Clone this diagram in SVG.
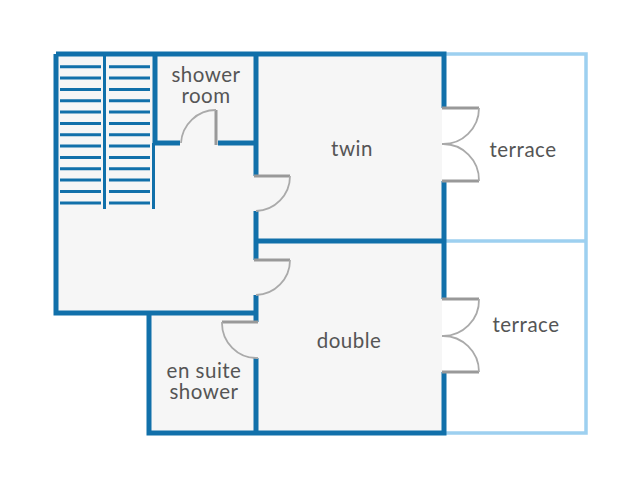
<svg xmlns="http://www.w3.org/2000/svg" width="640" height="488" viewBox="0 0 640 488">
<style>
.floor{fill:#f6f6f6;stroke:none}
.wall{fill:none;stroke:#1170aa;stroke-width:5}
.thin{fill:none;stroke:#1170aa;stroke-width:3}
.tread{fill:none;stroke:#1170aa;stroke-width:3}
.ter{fill:none;stroke:#9dd0f0;stroke-width:3.500}
.leaf{fill:none;stroke:#999;stroke-width:3}
.arc{fill:none;stroke:#aaa;stroke-width:1.800}
text{font-family:"Lato","Liberation Sans",sans-serif;font-size:20.500px;fill:#555;text-anchor:middle;letter-spacing:.5px}
</style>
<rect width="640" height="488" fill="#fff"/>
<g id="floor"><path class="floor" d="M56 54H442V433H149V313H56Z"/></g>
<g id="terraces">
<path class="ter" d="M444 54H586V433H444M444 241H586"/>
<text x="523" y="157">terrace</text>
<text x="526" y="332">terrace</text>
</g>
<g id="stairs">
<path class="thin" d="M104.500 54V209M153.500 143V209"/>
<path class="tread" d="M60 66.700H101M109 66.700H150M60 78H101M109 78H150M60 89.400H101M109 89.400H150M60 100.700H101M109 100.700H150M60 112H101M109 112H150M60 123.400H101M109 123.400H150M60 134.700H101M109 134.700H150M60 146H101M109 146H150M60 157.400H101M109 157.400H150M60 168.700H101M109 168.700H150M60 180H101M109 180H150M60 191.400H101M109 191.400H150M60 203H101M109 203H150"/>
</g>
<g id="walls">
<path class="wall" d="M56 54H444V108M444 181V299M444 372V433H149V313M56 54V313H256M155 54V143H180M218 143H256M256 54V176M256 211V260M256 295V322M256 358V433M256 241H444"/>
</g>
<g id="shower-room"><text x="206" y="82">shower<tspan x="206" y="103">room</tspan></text>
<path class="leaf" d="M216 110V145"/><path class="arc" d="M216 110A35 35 0 0 0 181 143"/></g>
<g id="twin"><text x="352" y="156">twin</text>
<path class="leaf" d="M254 176H290"/><path class="arc" d="M290 176A35 35 0 0 1 256 211"/>
<path class="leaf" d="M442 108H479"/><path class="arc" d="M479 108A36 36 0 0 1 442 144"/>
<path class="leaf" d="M442 181H479"/><path class="arc" d="M479 181A36 36 0 0 0 442 144"/></g>
<g id="double"><text x="349" y="348">double</text>
<path class="leaf" d="M254 260H290"/><path class="arc" d="M290 260A35 35 0 0 1 256 295"/>
<path class="leaf" d="M442 299H479"/><path class="arc" d="M479 299A36 36 0 0 1 442 336"/>
<path class="leaf" d="M442 372H479"/><path class="arc" d="M479 372A36 36 0 0 0 442 336"/></g>
<g id="en-suite"><text x="204" y="378">en suite<tspan x="204" y="399">shower</tspan></text>
<path class="leaf" d="M222 322H258"/><path class="arc" d="M222 322A35 35 0 0 0 258 358"/></g>
</svg>
